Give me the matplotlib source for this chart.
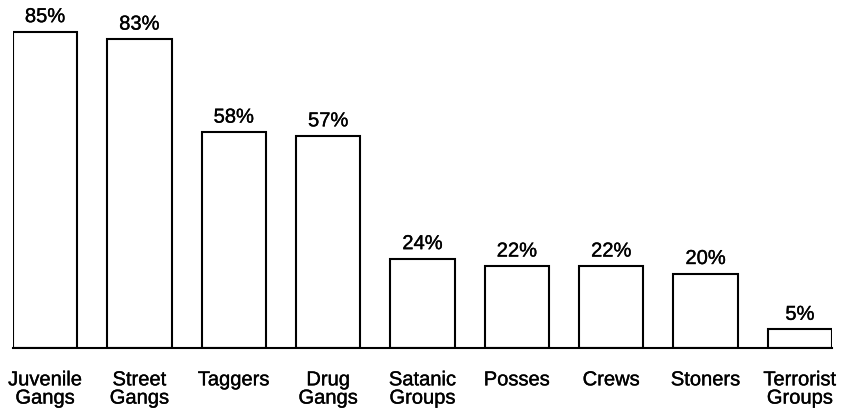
import matplotlib
matplotlib.use("Agg")
import matplotlib.pyplot as plt
import matplotlib.patheffects as pe

categories = ["Juvenile\nGangs", "Street\nGangs", "Taggers", "Drug\nGangs",
              "Satanic\nGroups", "Posses", "Crews", "Stoners", "Terrorist\nGroups"]
values = [85, 83, 58, 57, 24, 22, 22, 20, 5]
value_labels = ["85%", "83%", "58%", "57%", "24%", "22%", "22%", "20%", "5%"]

plt.rcParams['font.family'] = ['Liberation Sans', 'DejaVu Sans']

fig = plt.figure(figsize=(8.45, 4.1), dpi=100)
ax = fig.add_axes([13/845, 61/410, 819/845, 349/410])

x = list(range(len(categories)))
ax.bar(x, values, width=0.68, color="white", edgecolor="black", linewidth=1.5)
ax.set_xlim(-0.34, len(categories) - 1 + 0.34)
ax.set_ylim(0, 93.8)

stroke = [pe.withStroke(linewidth=0.25, foreground="black")]
for xi, v, lab in zip(x, values, value_labels):
    ax.text(xi, v + 1.5, lab, ha="center", va="bottom", fontsize=14.5,
            path_effects=stroke)

for xi, c in zip(x, categories):
    ax.text(xi, -6, c, ha="center", va="top", fontsize=14.5, linespacing=0.95,
            path_effects=stroke)

for s in ["top", "left", "right"]:
    ax.spines[s].set_visible(False)
ax.spines["bottom"].set_linewidth(1.5)
ax.set_xticks([])
ax.set_yticks([])

fig.savefig("out.png", dpi=100)
